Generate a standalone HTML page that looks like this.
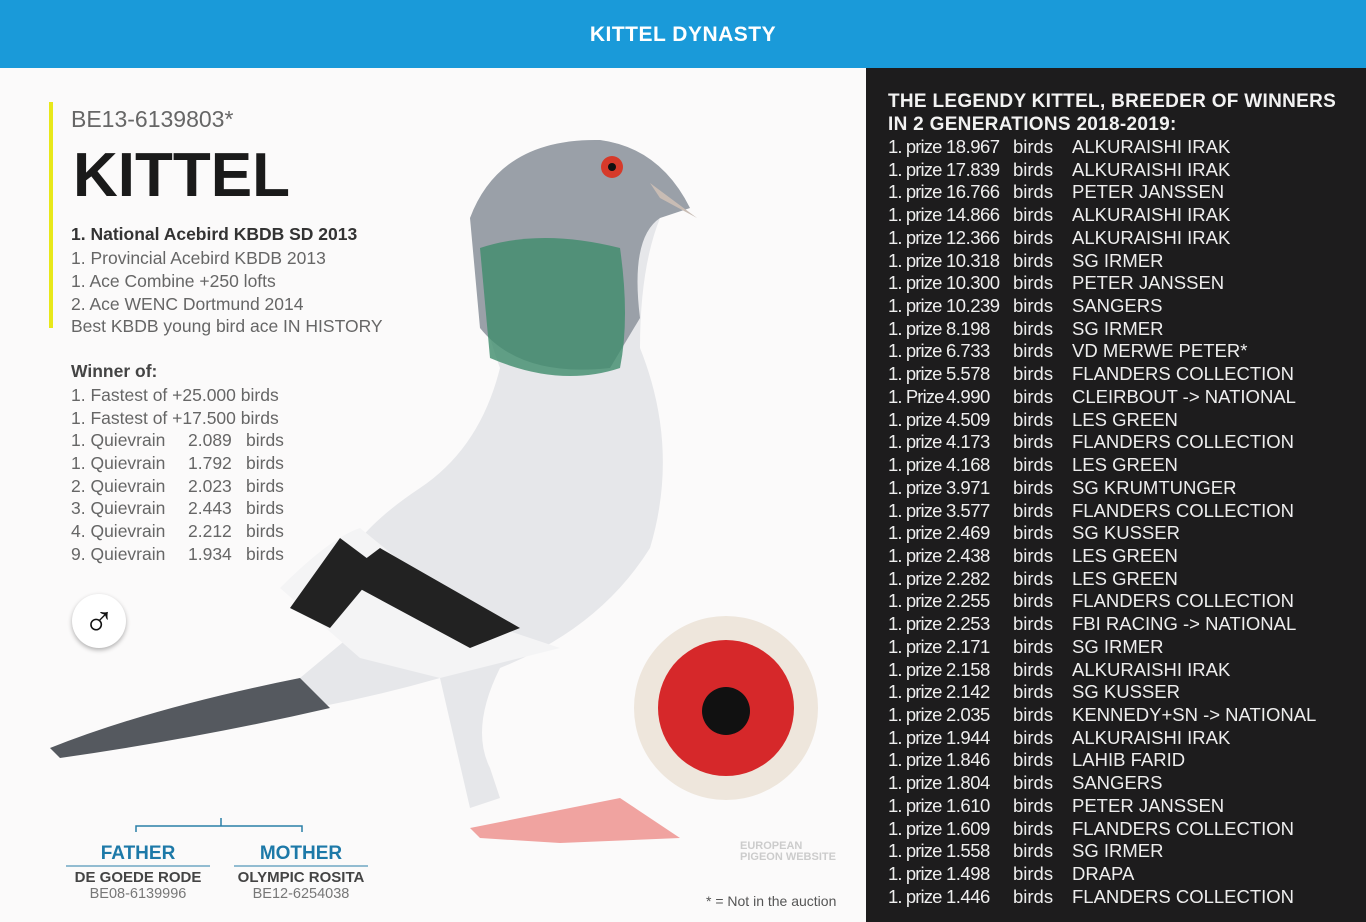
<!DOCTYPE html>
<html><head><meta charset="utf-8"><style>
*{margin:0;padding:0;box-sizing:border-box}
body{width:1366px;height:922px;overflow:hidden;background:#fbfafa;font-family:"Liberation Sans","DejaVu Sans",sans-serif;position:relative}
.top{position:absolute;left:0;top:0;width:1366px;height:68px;background:#1a9ad9;color:#fff;font-weight:bold;font-size:21px;text-align:center;line-height:70px;letter-spacing:0.5px}
.right{position:absolute;left:866px;top:68px;width:500px;height:854px;background:#1d1c1d;color:#f2f2f2}
.right h2{position:absolute;left:22px;top:22px;font-size:19px;line-height:23px;font-weight:bold;letter-spacing:0.3px}
.row{position:absolute;left:22px;font-size:18.5px;white-space:nowrap;color:#eee}
.row span{position:absolute}
.row .p{letter-spacing:-0.9px}
.t{position:absolute;color:#555;white-space:nowrap}
.bar{position:absolute;left:49px;top:102px;width:4px;height:226px;background:#e8e81a}
</style></head><body>
<div class="top">KITTEL DYNASTY</div>
<div class="bar"></div>
<div class="t" style="left:71px;top:106px;font-size:23px;color:#666">BE13-6139803*</div>
<div class="t" style="left:73px;top:140px;font-size:62px;font-weight:bold;color:#1a1a1a;letter-spacing:0px">KITTEL</div>
<div class="t" style="left:71px;top:224px;font-size:17.5px;font-weight:bold;color:#333">1. National Acebird KBDB SD 2013</div>
<div class="t" style="left:71px;top:247px;font-size:17.5px;line-height:22.8px;color:#666">1. Provincial Acebird KBDB 2013<br>1. Ace Combine +250 lofts<br>2. Ace WENC Dortmund 2014<br>Best KBDB young bird ace IN HISTORY</div>
<div class="t" style="left:71px;top:361px;font-size:17.5px;font-weight:bold;color:#444">Winner of:</div>
<div class="t" style="left:71px;top:384px;font-size:17.5px;line-height:22.8px;color:#666">1. Fastest of +25.000 birds<br>1. Fastest of +17.500 birds</div>
<div class="t" style="left:71px;top:429px;font-size:17.5px;line-height:22.8px;color:#666">1. Quievrain<br>1. Quievrain<br>2. Quievrain<br>3. Quievrain<br>4. Quievrain<br>9. Quievrain</div>
<div class="t" style="left:188px;top:429px;font-size:17.5px;line-height:22.8px;color:#666">2.089<br>1.792<br>2.023<br>2.443<br>2.212<br>1.934</div>
<div class="t" style="left:246px;top:429px;font-size:17.5px;line-height:22.8px;color:#666">birds<br>birds<br>birds<br>birds<br>birds<br>birds</div>
<div style="position:absolute;left:72px;top:594px;width:54px;height:54px;border-radius:50%;background:#fff;box-shadow:0 2px 5px rgba(0,0,0,.3);text-align:center;line-height:52px;font-size:42px;font-weight:bold;color:#111">♂</div>
<svg style="position:absolute;left:0;top:68px" width="866" height="854">
<path d="M50,680 Q150,640 300,610 L360,560 Q300,500 420,420 Q480,380 500,300 Q470,220 480,150 Q500,70 600,72 Q660,80 690,140 L660,150 Q640,200 640,280 Q680,380 650,480 Q600,560 500,600 Q470,660 490,700 L500,730 L470,740 L440,610 Q300,650 160,660 Z" fill="#e6e7ea"/>
<path d="M470,150 Q500,70 600,72 Q660,80 690,140 L660,150 Q630,170 640,250 L610,300 Q520,310 480,260 Z" fill="#9aa0a8"/>
<path d="M480,180 Q540,160 620,180 Q630,250 620,300 Q560,320 490,290 Z" fill="#3f8c6b" opacity=".8"/>
<path d="M50,680 Q150,640 300,610 L330,640 Q200,670 60,690 Z" fill="#55595f"/>
<path d="M280,520 Q330,470 360,460 L470,550 L560,580 L440,610 L360,590 Z" fill="#f4f4f5"/>
<path d="M290,540 L340,470 L380,500 L330,560 Z M340,510 L380,480 L520,560 L470,580 Z" fill="#222"/>
<circle cx="612" cy="99" r="11" fill="#d63a2a"/><circle cx="612" cy="99" r="4" fill="#111"/>
<path d="M650,115 L697,150 L660,130 Z" fill="#c8bcb4"/>
<path d="M470,760 L620,730 L680,770 L560,775 L480,770 Z" fill="#f0a3a0"/>
<circle cx="726" cy="640" r="92" fill="#eee6dc"/><circle cx="726" cy="640" r="68" fill="#d6282a"/><circle cx="726" cy="643" r="24" fill="#111"/>
<path d="M136,764 L136,758 L302,758 L302,764 M221,758 L221,750" stroke="#2a7fa8" stroke-width="1.5" fill="none"/>
<line x1="66" y1="798" x2="210" y2="798" stroke="#2a7fa8"/><line x1="234" y1="798" x2="368" y2="798" stroke="#2a7fa8"/>
</svg>
<div class="t" style="left:66px;width:144px;text-align:center;top:843px;font-size:19px;font-weight:bold;color:#1d79a8">FATHER</div>
<div class="t" style="left:234px;width:134px;text-align:center;top:843px;font-size:19px;font-weight:bold;color:#1d79a8">MOTHER</div>
<div class="t" style="left:60px;width:156px;text-align:center;top:869px;font-size:15px;font-weight:bold;color:#444">DE GOEDE RODE</div>
<div class="t" style="left:60px;width:156px;text-align:center;top:886px;font-size:14.5px;color:#777">BE08-6139996</div>
<div class="t" style="left:226px;width:150px;text-align:center;top:869px;font-size:15px;font-weight:bold;color:#444">OLYMPIC ROSITA</div>
<div class="t" style="left:226px;width:150px;text-align:center;top:886px;font-size:14.5px;color:#777">BE12-6254038</div>
<div class="t" style="left:740px;top:841px;font-size:11px;line-height:11px;font-weight:bold;color:#ccc">EUROPEAN<br>PIGEON WEBSITE</div>
<div class="t" style="left:706px;top:893px;font-size:14px;color:#555">* = Not in the auction</div>
<div class="right">
<h2>THE LEGENDY KITTEL, BREEDER OF WINNERS<br>IN 2 GENERATIONS 2018-2019:</h2>
<div id="list"></div>
</div>
<script>
var d=[["18.967","ALKURAISHI IRAK"],["17.839","ALKURAISHI IRAK"],["16.766","PETER JANSSEN"],["14.866","ALKURAISHI IRAK"],["12.366","ALKURAISHI IRAK"],["10.318","SG IRMER"],["10.300","PETER JANSSEN"],["10.239","SANGERS"],["8.198","SG IRMER"],["6.733","VD MERWE PETER*"],["5.578","FLANDERS COLLECTION"],["4.990","CLEIRBOUT -> NATIONAL"],["4.509","LES GREEN"],["4.173","FLANDERS COLLECTION"],["4.168","LES GREEN"],["3.971","SG KRUMTUNGER"],["3.577","FLANDERS COLLECTION"],["2.469","SG KUSSER"],["2.438","LES GREEN"],["2.282","LES GREEN"],["2.255","FLANDERS COLLECTION"],["2.253","FBI RACING -> NATIONAL"],["2.171","SG IRMER"],["2.158","ALKURAISHI IRAK"],["2.142","SG KUSSER"],["2.035","KENNEDY+SN -> NATIONAL"],["1.944","ALKURAISHI IRAK"],["1.846","LAHIB FARID"],["1.804","SANGERS"],["1.610","PETER JANSSEN"],["1.609","FLANDERS COLLECTION"],["1.558","SG IRMER"],["1.498","DRAPA"],["1.446","FLANDERS COLLECTION"]];
var h="";d.forEach(function(r,i){var p=i==11?"1. Prize":"1. prize";h+='<div class="row" style="top:'+(68+i*22.72)+'px"><span class="p" style="left:0">'+p+'</span><span style="left:58px;letter-spacing:-0.5px">'+r[0]+'</span><span style="left:125px">birds</span><span style="left:184px">'+r[1].replace(/>/g,"&gt;")+'</span></div>';});
document.getElementById("list").innerHTML=h;
</script>
</body></html>
